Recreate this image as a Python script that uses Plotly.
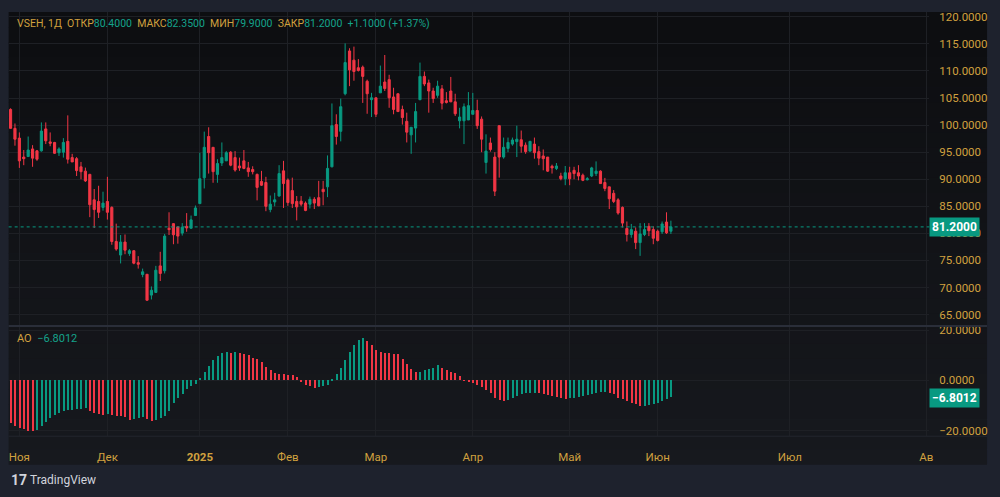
import plotly.graph_objects as go

# ---------------- data ----------------
opens = [102.9, 99.4, 97.6, 94.1, 94.2, 95.6, 95.25, 95.25, 99.3, 96.9,
         96.8, 94.9, 95.0, 97.0, 94.0, 93.8, 92.3, 91.5, 90.9, 86.2,
         85.9, 84.8, 85.9, 84.8, 78.5, 76.0, 78.4, 76.3, 76.8, 74.6,
         72.4, 72.45, 68.6, 69.1, 74.0, 73.1, 80.95, 81.8, 81.2, 80.05,
         81.3, 80.95, 83.3, 85.5, 90.26, 97.9, 95.9, 90.9, 93.0, 93.4,
         95.0, 94.0, 92.45, 93.4, 92.1, 91.8, 90.9, 89.6, 89.4, 84.4,
         85.8, 86.9, 91.55, 89.85, 87.9, 85.9, 85.95, 85.6, 85.4, 86.3,
         86.6, 88.15, 88.6, 92.3, 100.1, 98.85, 105.8, 113.7, 112.0, 110.6,
         110.7, 108.1, 104.7, 105.05, 105.96, 107.96, 108.4, 105.2, 105.8, 102.9,
         100.7, 98.2, 99.45, 104.7, 109.0, 107.8, 106.3, 105.5, 106.7, 104.5,
         106.3, 104.3, 100.8, 100.8, 100.95, 102.0, 102.7, 101.1, 93.1, 96.7,
         94.1, 99.9, 94.1, 95.7, 96.5, 96.95, 97.3, 96.3, 95.2, 96.5,
         95.1, 94.3, 94.1, 92.4, 92.0, 90.6, 90.1, 91.2, 91.65, 91.2,
         90.75, 89.9, 90.6, 91.05, 91.5, 89.4, 88.6, 87.4, 86.2, 84.8,
         80.9, 79.8, 80.4, 78.3, 79.8, 81.3, 80.7, 80.4, 80.3, 82.1,
         80.4]
highs = [103.1, 100.3, 98.65, 95.4, 97.9, 96.3, 95.4, 100.5, 100.5, 98.65,
         96.9, 95.9, 97.6, 101.8, 94.7, 94.1, 93.2, 92.15, 91.0, 88.2,
         88.8, 87.7, 90.45, 85.0, 81.8, 79.7, 79.8, 77.1, 76.9, 75.8,
         73.5, 72.5, 70.2, 74.0, 76.6, 79.9, 83.9, 81.9, 81.3, 81.9,
         83.75, 83.3, 85.15, 94.9, 98.8, 99.6, 95.9, 93.7, 96.8, 95.2,
         95.2, 95.2, 94.0, 95.4, 93.2, 92.4, 91.05, 91.55, 90.45, 87.0,
         87.5, 92.6, 93.4, 90.15, 90.3, 86.9, 86.9, 85.9, 86.8, 86.7,
         89.7, 89.7, 94.4, 104.0, 102.0, 104.9, 115.1, 114.2, 114.5, 112.2,
         111.0, 108.4, 105.96, 105.05, 111.0, 112.95, 109.3, 106.9, 105.8, 103.6,
         102.3, 99.6, 104.1, 111.55, 109.9, 108.4, 106.9, 108.2, 107.4, 106.1,
         108.9, 105.8, 103.2, 104.0, 106.1, 105.95, 104.7, 101.6, 98.3, 97.7,
         95.0, 99.9, 97.7, 97.7, 97.7, 99.9, 99.0, 96.8, 97.1, 97.7,
         96.1, 95.5, 94.1, 92.7, 93.0, 91.2, 92.45, 92.3, 92.3, 92.6,
         91.05, 90.4, 92.3, 93.3, 91.65, 90.25, 88.6, 88.0, 86.5, 84.97,
         82.2, 81.75, 81.1, 81.9, 81.9, 81.9, 81.3, 80.7, 82.2, 83.9,
         82.35]
lows = [99.4, 96.2, 92.1, 92.6, 94.1, 92.3, 93.4, 95.1, 96.5, 96.1,
        94.7, 94.3, 94.0, 92.9, 93.2, 90.6, 90.0, 89.5, 83.0, 81.0,
        82.85, 84.2, 82.55, 77.9, 76.8, 74.45, 76.15, 75.85, 74.3, 73.5,
        71.9, 67.6, 67.8, 69.0, 71.2, 72.6, 79.7, 78.0, 78.1, 79.6,
        80.3, 80.9, 83.3, 85.5, 88.3, 91.05, 89.35, 89.35, 92.45, 93.4,
        92.4, 91.4, 91.55, 91.85, 90.45, 90.9, 86.1, 88.75, 84.1, 83.9,
        85.0, 86.8, 84.7, 85.1, 84.7, 82.4, 85.0, 84.1, 84.6, 84.5,
        85.0, 85.2, 86.7, 92.2, 96.4, 97.0, 105.5, 107.2, 108.2, 109.9,
        104.1, 102.1, 101.5, 101.5, 105.96, 106.3, 103.2, 102.0, 102.5, 100.1,
        96.8, 94.7, 96.8, 104.6, 107.2, 102.3, 104.1, 105.05, 102.9, 104.0,
        104.25, 101.7, 99.4, 96.5, 100.95, 102.0, 99.3, 95.0, 91.05, 95.1,
        86.9, 90.3, 93.8, 95.0, 96.2, 94.1, 94.9, 94.7, 95.1, 93.8,
        92.6, 91.65, 91.35, 91.05, 91.7, 89.8, 88.9, 88.9, 90.0, 89.8,
        89.65, 89.8, 90.4, 90.6, 89.2, 87.8, 84.5, 85.6, 83.45, 81.1,
        78.5, 79.2, 77.1, 75.85, 79.5, 79.5, 78.0, 78.5, 79.9, 79.9,
        79.9]
closes = [99.4, 97.4, 93.4, 93.8, 95.4, 93.9, 93.7, 98.9, 97.1, 96.65,
          94.8, 95.6, 96.8, 93.7, 93.2, 91.6, 91.4, 89.7, 85.3, 84.4,
          83.9, 85.6, 83.9, 78.5, 77.1, 78.4, 76.9, 76.8, 74.5, 74.3,
          72.9, 67.65, 69.5, 73.2, 72.6, 79.5, 80.7, 79.75, 79.5, 81.15,
          81.0, 82.5, 84.7, 90.1, 95.9, 94.9, 91.4, 92.9, 94.0, 94.9,
          92.6, 91.7, 92.1, 92.0, 91.4, 91.4, 88.5, 88.9, 85.0, 85.4,
          86.2, 91.05, 89.2, 85.7, 85.5, 84.9, 85.4, 84.25, 86.3, 85.6,
          85.1, 87.7, 92.0, 99.9, 97.9, 103.4, 111.55, 110.2, 109.9, 110.1,
          109.0, 105.8, 105.05, 102.0, 107.2, 106.75, 105.05, 102.9, 102.5, 101.4,
          98.7, 99.6, 102.5, 109.0, 107.6, 106.3, 104.9, 107.2, 104.05, 104.2,
          104.3, 102.1, 101.5, 103.4, 103.6, 102.7, 99.9, 97.4, 95.2, 95.5,
          87.8, 94.1, 95.9, 96.8, 97.25, 97.4, 96.1, 95.1, 97.0, 94.9,
          93.9, 93.8, 91.5, 92.1, 92.45, 90.1, 91.2, 90.1, 91.05, 90.6,
          89.8, 90.1, 92.1, 91.5, 89.2, 88.3, 86.4, 85.9, 83.75, 81.9,
          79.8, 80.7, 78.3, 79.9, 80.7, 80.5, 79.1, 78.7, 81.75, 80.1,
          81.2]
ao = [-17.1, -18.0, -18.8, -19.5, -20.0, -20.2, -19.8, -18.1, -16.4, -14.9,
      -13.9, -12.9, -12.3, -11.9, -11.6, -11.4, -11.2, -11.1, -12.2, -13.0,
      -13.4, -13.7, -13.5, -13.8, -14.1, -14.3, -14.6, -15.6, -15.2, -14.9,
      -14.7, -15.4, -16.3, -15.8, -15.0, -14.0, -12.0, -9.0, -7.2, -5.3,
      -3.4, -2.4, -1.3, 0.9, 3.2, 5.8, 8.0, 9.8, 10.9, 11.2,
      11.0, 11.1, 10.9, 10.6, 9.9, 9.0, 8.3, 7.3, 5.4, 4.2,
      2.9, 2.6, 2.5, 2.3, 2.1, 1.3, -0.3, -1.7, -2.4, -3.2,
      -2.7, -2.4, -1.7, 0.5, 2.5, 5.1, 8.1, 11.4, 14.0, 16.0,
      17.0, 15.6, 14.1, 12.2, 11.1, 10.9, 10.7, 10.5, 10.3, 8.5,
      6.4, 4.7, 3.4, 3.5, 4.2, 4.6, 5.1, 6.1, 4.8, 4.2,
      3.5, 2.9, 1.6, 0.1, -0.4, -1.0, -1.9, -2.7, -3.7, -5.0,
      -7.0, -7.9, -8.2, -7.8, -7.2, -6.3, -5.6, -5.2, -5.0, -4.9,
      -5.1, -5.5, -5.9, -6.2, -6.6, -7.1, -7.4, -7.2, -7.0, -6.6,
      -6.2, -5.8, -5.3, -4.9, -4.7, -4.6, -5.0, -5.6, -6.9, -7.6,
      -8.2, -8.9, -9.5, -10.2, -10.1, -9.8, -9.4, -8.8, -8.2, -7.6,
      -6.8012]
month_pos = [2, 22, 43, 63, 83, 105, 127, 147, 177, 208]
month_labels = ["Ноя", "Дек", "<b>2025</b>", "Фев", "Мар", "Апр", "Май", "Июн", "Июл", "Ав"]
price_ticks = [65, 70, 75, 80, 85, 90, 95, 100, 105, 110, 115, 120]
ao_ticks = [-20, 0, 20]

# ---------------- style ----------------
UP = "#089981"
DN = "#f23645"
GOLD = "#d1a13f"
TEAL = "#14a38b"
GRID = "#1e2025"
FONT = "Roboto"
W, H = 1000, 497

def px(x):
    return x / W

def py(y):
    return 1 - y / H

x = list(range(len(closes)))
ao_colors = [DN] + [UP if ao[i] >= ao[i - 1] else DN for i in range(1, len(ao))]

fig = go.Figure()
fig.add_trace(go.Candlestick(
    x=x, open=opens, high=highs, low=lows, close=closes,
    increasing=dict(line=dict(color=UP, width=1), fillcolor=UP),
    decreasing=dict(line=dict(color=DN, width=1), fillcolor=DN),
    whiskerwidth=0, xaxis="x", yaxis="y", showlegend=False, hoverinfo="skip"))
fig.add_trace(go.Bar(
    x=x, y=ao, marker=dict(color=ao_colors, line=dict(width=0)), width=0.25,
    xaxis="x2", yaxis="y2", showlegend=False, hoverinfo="skip"))

xl, xr = 8.7, 933
xrange = [(xl - 10.6) / 4.42, (xr - 10.6) / 4.42]
pane_top, pane_bot = 8, 325
ao_top, ao_bot = 327, 437

def price_at(y):
    return 120 - (y - 13) / 5.48

def ao_at(y):
    return (381 - y) / 2.55

def axis_common(size):
    return dict(showline=False, zeroline=False, ticks="",
                gridcolor=GRID, gridwidth=1,
                tickfont=dict(family=FONT, size=size, color=GOLD))

fig.update_layout(
    width=W, height=H,
    margin=dict(l=0, r=0, t=0, b=0),
    paper_bgcolor="#1e222d",
    plot_bgcolor="rgba(0,0,0,0)",
    bargap=0,
    xaxis=dict(domain=[px(xl), px(xr)], range=xrange, anchor="y",
               tickvals=month_pos, ticktext=month_labels, showticklabels=False,
               rangeslider=dict(visible=False), **axis_common(12)),
    xaxis2=dict(domain=[px(xl), px(xr)], range=xrange, anchor="y2", matches="x",
                tickvals=month_pos, ticktext=month_labels, showticklabels=True,
                ticklabelstandoff=13, **axis_common(11.5)),
    yaxis=dict(domain=[py(pane_bot), py(pane_top)],
               range=[price_at(pane_bot), price_at(pane_top)],
               side="right", anchor="free", position=px(942), tickvals=price_ticks,
               tickformat=".4f", **axis_common(11.5)),
    yaxis2=dict(domain=[py(ao_bot), py(ao_top)],
                range=[ao_at(ao_bot), ao_at(ao_top)],
                side="right", anchor="free", position=px(942), tickvals=ao_ticks,
                tickformat=".4f", **axis_common(11.5)),
)

# background panel with a soft vertical gradient
shapes = []
top_c = (13, 14, 17)
bot_c = (23, 25, 30)
n = 30
y0, y1 = 8, 466
for k in range(n):
    t = k / (n - 1)
    c = tuple(int(top_c[j] + (bot_c[j] - top_c[j]) * t) for j in range(3))
    ya = y0 + (y1 - y0) * k / n
    yb = y0 + (y1 - y0) * (k + 1) / n
    shapes.append(dict(type="rect", xref="paper", yref="paper", layer="below",
                       x0=px(8.7), x1=px(991), y0=py(yb + 0.5), y1=py(ya),
                       fillcolor="rgb(%d,%d,%d)" % c, line=dict(width=0)))
# pane separator
shapes.append(dict(type="line", xref="paper", yref="paper", layer="above",
                   x0=px(8.7), x1=px(991), y0=py(326), y1=py(326),
                   line=dict(color="#2a2e39", width=2)))
# time axis border
shapes.append(dict(type="line", xref="paper", yref="paper", layer="above",
                   x0=px(8.7), x1=px(991), y0=py(437.5), y1=py(437.5),
                   line=dict(color="#23262e", width=1)))
# last price dotted line
shapes.append(dict(type="line", xref="paper", yref="y", layer="above",
                   x0=px(xl), x1=px(xr), y0=closes[-1], y1=closes[-1],
                   line=dict(color=UP, width=1, dash="dot")))
fig.update_layout(shapes=shapes)

ann = []
chg = closes[-1] - closes[-2]
header = ("VSEH, 1Д&nbsp; ОТКР<span style='color:%s'>%.4f</span>&nbsp; МАКС<span style='color:%s'>%.4f</span>"
          "&nbsp; МИН<span style='color:%s'>%.4f</span>&nbsp; ЗАКР<span style='color:%s'>%.4f</span>"
          "&nbsp; <span style='color:%s'>+%.4f (+%.2f%%)</span>") % (
    TEAL, opens[-1], TEAL, highs[-1], TEAL, lows[-1], TEAL, closes[-1],
    TEAL, chg, chg / closes[-2] * 100)
ann.append(dict(xref="paper", yref="paper", x=px(15), y=py(20), xanchor="left", yanchor="middle",
                text=header, showarrow=False, font=dict(family=FONT, size=10.5, color=GOLD)))
ann.append(dict(xref="paper", yref="paper", x=px(15), y=py(339), xanchor="left", yanchor="middle",
                text="AO&nbsp; <span style='color:%s'>%s</span>" % (TEAL, ("%.4f" % ao[-1]).replace("-", "−")),
                showarrow=False, font=dict(family=FONT, size=11, color=GOLD)))
# last value labels
ann.append(dict(xref="paper", yref="y", x=px(xr), y=closes[-1], xanchor="left", yanchor="middle",
                text="<b>%.4f</b>" % closes[-1], showarrow=False, bgcolor=UP,
                borderpad=2, font=dict(family=FONT, size=12, color="#ffffff")))
ann.append(dict(xref="paper", yref="y2", x=px(xr), y=ao[-1], xanchor="left", yanchor="middle",
                text="<b>%s</b>" % ("%.4f" % ao[-1]).replace("-", "−"), showarrow=False, bgcolor=UP,
                borderpad=2, font=dict(family=FONT, size=12, color="#ffffff")))
# TradingView mark
ann.append(dict(xref="paper", yref="paper", x=px(9), y=py(482), xanchor="left", yanchor="middle",
                text="<b>17</b>", showarrow=False, font=dict(family=FONT, size=14, color="#d1d4dc")))
ann.append(dict(xref="paper", yref="paper", x=px(28), y=py(482), xanchor="left", yanchor="middle",
                text="TradingView", showarrow=False, font=dict(family=FONT, size=12, color="#d1d4dc")))
fig.update_layout(annotations=ann)

fig.write_html("out.html")
